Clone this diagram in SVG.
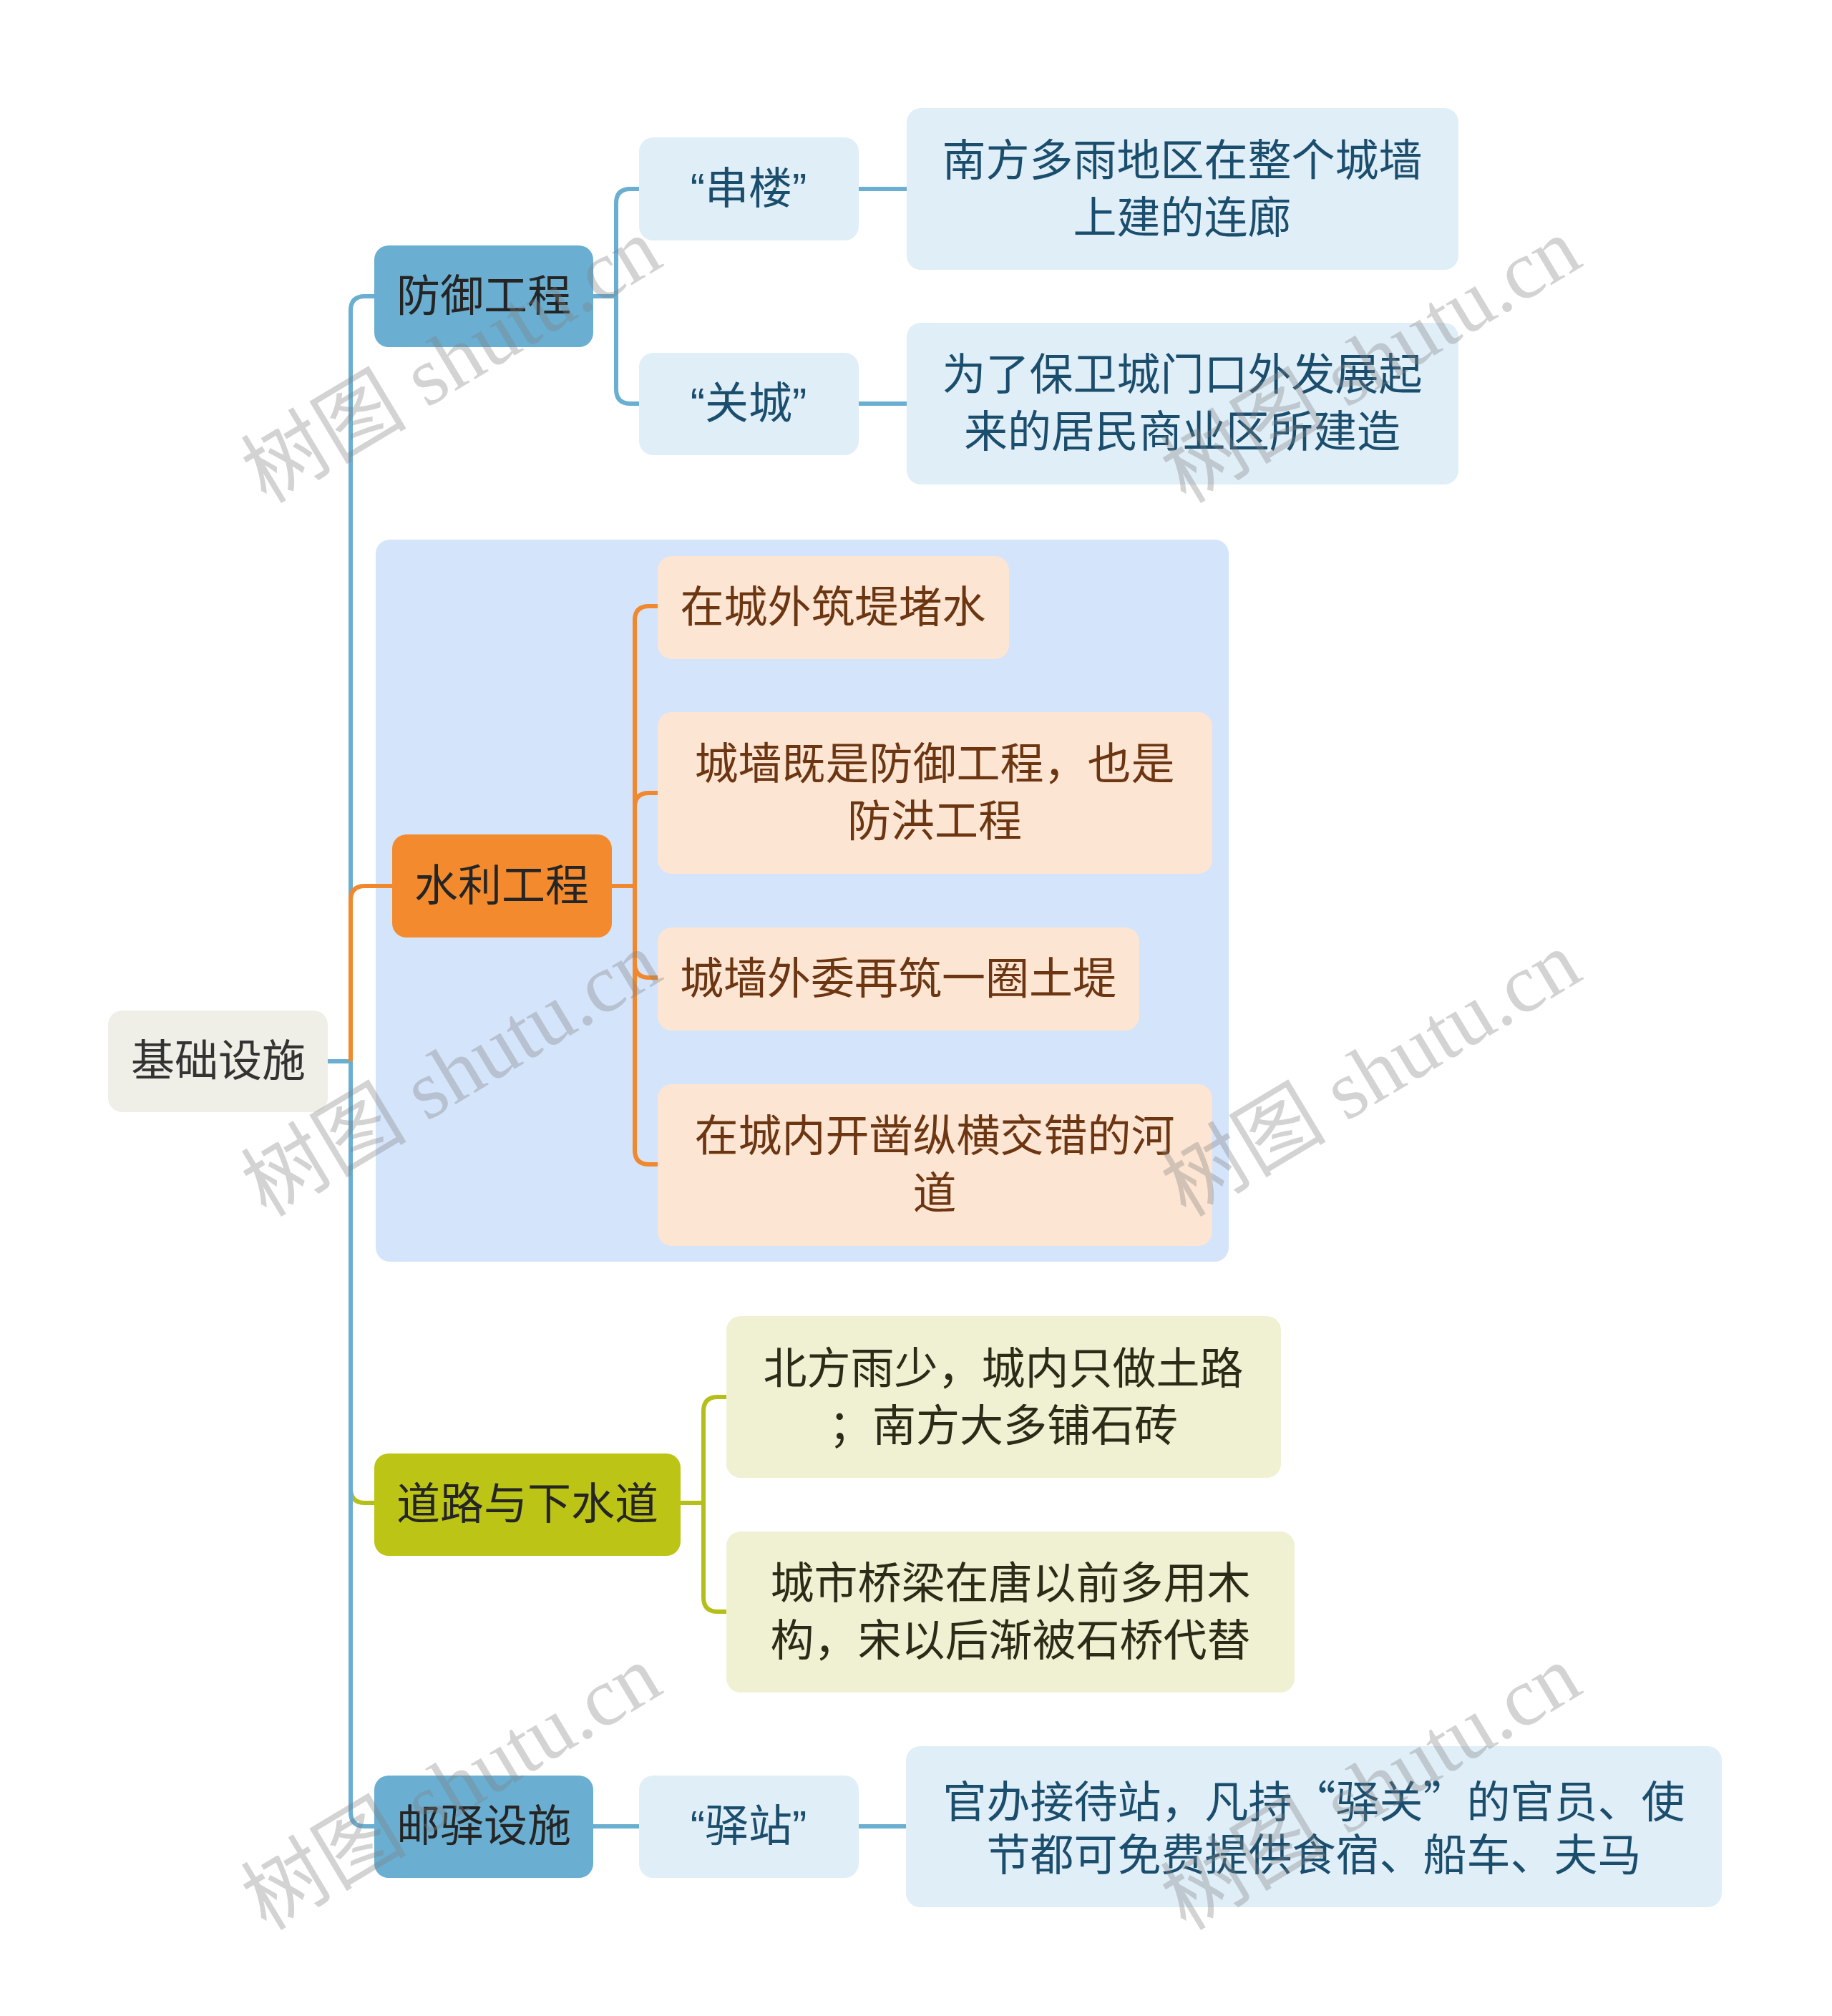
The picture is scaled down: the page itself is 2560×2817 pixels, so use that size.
<svg xmlns="http://www.w3.org/2000/svg" width="2560" height="2817" viewBox="0 0 2560 2817">
<style>
text{font-family:"Liberation Sans","Noto Sans CJK SC",sans-serif;font-size:61px;text-anchor:middle;dominant-baseline:central}
.cjk{font-family:"Noto Sans CJK SC",sans-serif}
.con{fill:none;stroke-width:6;stroke-linecap:butt}
.cb{stroke:#6aaed1}.co{stroke:#f0882e}.cg{stroke:#b5bf1a}
.root{fill:#efefe7}.tr{fill:#333333}
.main-b{fill:#6aaed1}.main-o{fill:#f38b2e}.main-g{fill:#bcc416}.tm{fill:#252525}
.leaf-b{fill:#dfeef7}.tb{fill:#1b4d6d}
.leaf-o{fill:#fde5d3}.to{fill:#6b3611}
.leaf-g{fill:#f0f1d2}.tg{fill:#2b2b18}
.wm{font-family:"Liberation Serif","Noto Sans CJK SC",serif;font-size:116px;fill:#808080;fill-opacity:0.35;text-anchor:start;dominant-baseline:alphabetic}
</style>
<rect width="2560" height="2817" fill="#ffffff"/>
<rect id="group-water" x="525" y="754" width="1192" height="1009" rx="20" fill="#d4e4fb"/>
<g id="connectors">
<path class="con cb" d="M458,1483 H490"/>
<path class="con cb" d="M490,1483 V434 Q490,414 510,414 H523"/>
<path class="con co" d="M490,1483 V1258 Q490,1238 510,1238 H548"/>
<path class="con cg" d="M490,1483 V2080 Q490,2100 510,2100 H523"/>
<path class="con cb" d="M490,1483 V2532 Q490,2552 510,2552 H523"/>
<path class="con cb" d="M829,414 H861 M861,414 V284 Q861,264 881,264 H893 M861,414 V544 Q861,564 881,564 H893"/>
<path class="con cb" d="M1200,264 H1267 M1200,564 H1267"/>
<path class="con co" d="M855,1238 H887 M887,1238 V867 Q887,847 907,847 H919 M887,1238 V1128 Q887,1108 907,1108 H919 M887,1238 V1346 Q887,1366 907,1366 H919 M887,1238 V1607 Q887,1627 907,1627 H919"/>
<path class="con cg" d="M951,2100 H983 M983,2100 V1972 Q983,1952 1003,1952 H1015 M983,2100 V2232 Q983,2252 1003,2252 H1015"/>
<path class="con cb" d="M829,2552 H893 M1200,2552 H1266"/>
</g>
<g id="root"><rect class="root" x="151" y="1412" width="307" height="142" rx="20"/><text class="tr" x="305" y="1483">基础设施</text></g>
<g id="n-fangyu"><rect class="main-b" x="523" y="343" width="306" height="142" rx="20"/><text class="tm" x="676" y="414">防御工程</text></g>
<g id="n-chuanlou"><rect class="leaf-b" x="893" y="192" width="307" height="144" rx="20"/><text class="tb" x="1046" y="264">“串楼”</text></g>
<g id="n-chuanlou-d"><rect class="leaf-b" x="1267" y="151" width="771" height="226" rx="20"/><text class="tb" x="1652" y="225">南方多雨地区在整个城墙</text><text class="tb" x="1652" y="305">上建的连廊</text></g>
<g id="n-guancheng"><rect class="leaf-b" x="893" y="493" width="307" height="143" rx="20"/><text class="tb" x="1046" y="564">“关城”</text></g>
<g id="n-guancheng-d"><rect class="leaf-b" x="1267" y="451" width="771" height="226" rx="20"/><text class="tb" x="1652" y="524">为了保卫城门口外发展起</text><text class="tb" x="1652" y="604">来的居民商业区所建造</text></g>
<g id="n-shuili"><rect class="main-o" x="548" y="1166" width="307" height="144" rx="20"/><text class="tm" x="701" y="1238">水利工程</text></g>
<g id="n-s1"><rect class="leaf-o" x="919" y="777" width="491" height="144" rx="20"/><text class="to" x="1164" y="849">在城外筑堤堵水</text></g>
<g id="n-s2"><rect class="leaf-o" x="919" y="995" width="775" height="226" rx="20"/><text class="to" x="1306" y="1068">城墙既是防御工程，也是</text><text class="to" x="1306" y="1148">防洪工程</text></g>
<g id="n-s3"><rect class="leaf-o" x="919" y="1296" width="673" height="144" rx="20"/><text class="to" x="1255" y="1368">城墙外委再筑一圈土堤</text></g>
<g id="n-s4"><rect class="leaf-o" x="919" y="1515" width="775" height="226" rx="20"/><text class="to" x="1306" y="1588">在城内开凿纵横交错的河</text><text class="to" x="1306" y="1668">道</text></g>
<g id="n-daolu"><rect class="main-g" x="523" y="2031" width="428" height="143" rx="20"/><text class="tm" x="737" y="2102">道路与下水道</text></g>
<g id="n-d1"><rect class="leaf-g" x="1015" y="1839" width="775" height="226" rx="20"/><text class="tg" x="1402" y="1913">北方雨少，城内只做土路</text><text class="tg" x="1402" y="1993">；南方大多铺石砖</text></g>
<g id="n-d2"><rect class="leaf-g" x="1015" y="2140" width="794" height="225" rx="20"/><text class="tg" x="1412" y="2213">城市桥梁在唐以前多用木</text><text class="tg" x="1412" y="2293">构，宋以后渐被石桥代替</text></g>
<g id="n-youyi"><rect class="main-b" x="523" y="2481" width="306" height="143" rx="20"/><text class="tm" x="676" y="2552">邮驿设施</text></g>
<g id="n-yizhan"><rect class="leaf-b" x="893" y="2481" width="307" height="143" rx="20"/><text class="tb" x="1046" y="2552">“驿站”</text></g>
<g id="n-yizhan-d"><rect class="leaf-b" x="1266" y="2440" width="1140" height="225" rx="20"/><text class="tb cjk" x="1836" y="2513">官办接待站，凡持“驿关”的官员、使</text><text class="tb" x="1836" y="2593">节都可免费提供食宿、船车、夫马</text></g>
<g id="watermarks">
<text class="wm" transform="translate(372,705) rotate(-31)">树图 shutu.cn</text>
<text class="wm" transform="translate(1657,705) rotate(-31)">树图 shutu.cn</text>
<text class="wm" transform="translate(372,1702) rotate(-31)">树图 shutu.cn</text>
<text class="wm" transform="translate(1657,1702) rotate(-31)">树图 shutu.cn</text>
<text class="wm" transform="translate(372,2699) rotate(-31)">树图 shutu.cn</text>
<text class="wm" transform="translate(1657,2699) rotate(-31)">树图 shutu.cn</text>
</g>
</svg>
